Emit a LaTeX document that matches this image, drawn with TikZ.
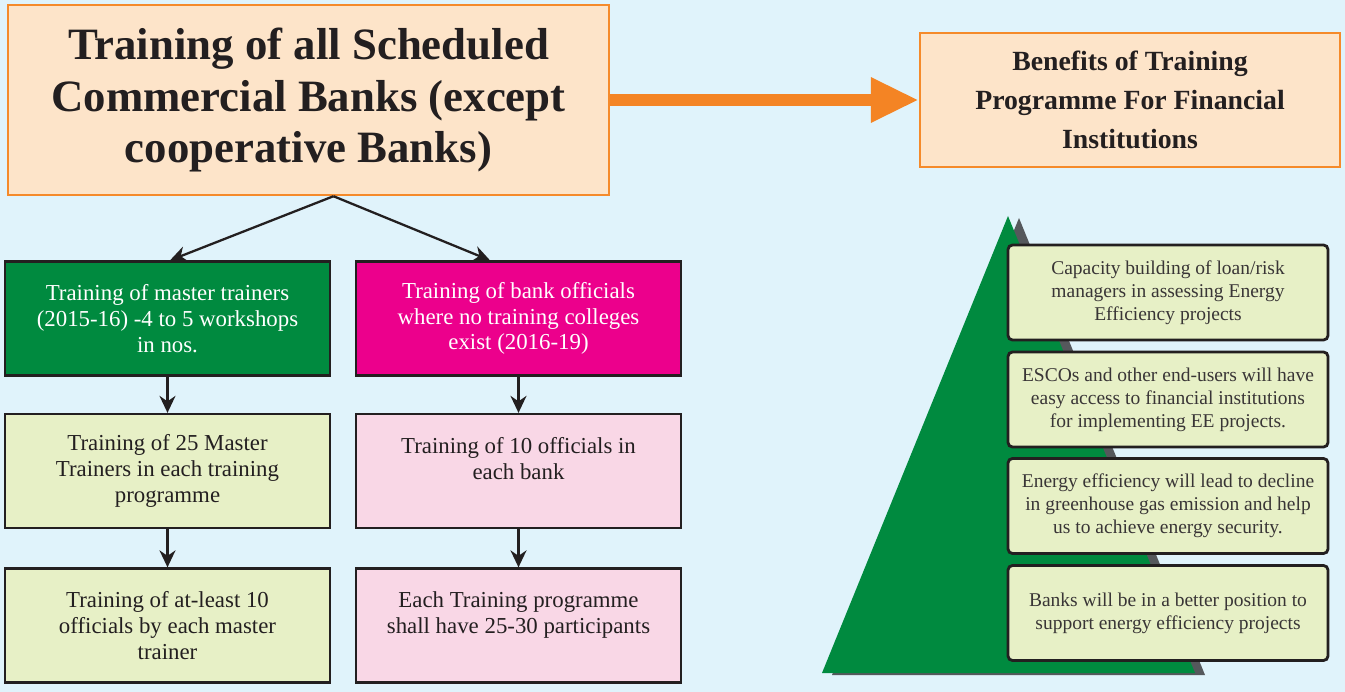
\documentclass[tikz,border=0pt]{standalone}
\usepackage{fontspec}
\setmainfont{Liberation Serif}
\usetikzlibrary{arrows.meta}

\definecolor{skyback}{HTML}{E0F3FB}
\definecolor{peach}{HTML}{FDE4C9}
\definecolor{orangeline}{HTML}{F58A2A}
\definecolor{orangearrow}{HTML}{F48424}
\definecolor{treegreen}{HTML}{008A3F}
\definecolor{hotpink}{HTML}{EC008C}
\definecolor{lightolive}{HTML}{E7F0C6}
\definecolor{lightpink}{HTML}{F9D7E6}
\definecolor{boxline}{HTML}{231F20}
\definecolor{shadowgray}{HTML}{55585C}

\begin{document}
\begin{tikzpicture}[
    x=0.02cm, y=-0.02cm,
    >={Stealth[length=3.4mm,width=3.2mm]},
    titlebox/.style={
        draw=orangeline,
        line width=1.4pt,
        fill=peach,
        align=center,
        inner sep=0pt,
        text=boxline
    },
    stepbox/.style={
        draw=boxline,
        line width=1.3pt,
        minimum width=6.5cm,
        minimum height=2.28cm,
        align=center,
        inner sep=0pt,
        text=boxline,
        font=\fontsize{13}{14.7}\selectfont
    },
    gainbox/.style={
        draw=boxline,
        line width=1.6pt,
        rounded corners=2.5pt,
        fill=lightolive,
        minimum width=6.4cm,
        minimum height=1.9cm,
        align=center,
        inner sep=0pt,
        text=boxline!90,
        font=\fontsize{11.1}{13}\selectfont
    },
    arr/.style={->, line width=1.3pt, draw=boxline},
    bigarr/.style={-{Triangle[length=0.96cm,width=0.84cm]}, line width=0.24cm, draw=orangearrow}
]
    \useasboundingbox[fill=skyback] (0,0) rectangle (1345,692);

    % top row
    \node[titlebox, minimum width=12.02cm, minimum height=3.8cm,
          font=\bfseries\fontsize{25.5}{29.5}\selectfont] (title) at (308.5,100)
        {Training of all Scheduled\\Commercial Banks (except\\cooperative Banks)};

    \node[titlebox, minimum width=8.4cm, minimum height=2.68cm,
          font=\bfseries\fontsize{15.8}{22}\selectfont] (benefits) at (1130,100)
        {Benefits of Training\\Programme For Financial\\Institutions};

    \draw[bigarr] (title.east) -- (benefits.west);

    % left column
    \node[stepbox, fill=treegreen, text=white] (master) at (167.5,318.5)
        {Training of master trainers\\(2015-16) -4 to 5 workshops\\in nos.};
    \node[stepbox, fill=lightolive] (mastertrain) at (167.5,471)
        {Training of 25 Master\\Trainers in each training\\programme};
    \node[stepbox, fill=lightolive] (atleast) at (167.5,625.5)
        {Training of at-least 10\\officials by each master\\trainer};

    % right column
    \node[stepbox, fill=hotpink, text=white] (bankoff) at (518.5,318.5)
        {Training of bank officials\\where no training colleges\\exist (2016-19)};
    \node[stepbox, fill=lightpink] (officials) at (518.5,471)
        {Training of 10 officials in\\each bank\\~};
    \node[stepbox, fill=lightpink] (participants) at (518.5,625.5)
        {Each Training programme\\shall have 25-30 participants\\~};

    \draw[arr] ([xshift=0.5cm]title.south) -- ([xshift=0.05cm]master.north);
    \draw[arr] ([xshift=0.5cm]title.south) -- ([xshift=-0.57cm]bankoff.north);
    \draw[arr] (master) -- (mastertrain);
    \draw[arr] (mastertrain) -- (atleast);
    \draw[arr] (bankoff) -- (officials);
    \draw[arr] (officials) -- (participants);

    % pyramid
    \fill[shadowgray] (1019,218) -- (1205,675) -- (832,675) -- cycle;
    \fill[treegreen] (1008,216) -- (1195,673) -- (822,673) -- cycle;

    \node[gainbox] (gain1) at (1168,292.5)
        {Capacity building of loan/risk\\managers in assessing Energy\\Efficiency projects};
    \node[gainbox] (gain2) at (1168,399.5)
        {ESCOs and other end-users will have\\easy access to financial institutions\\for implementing EE projects.};
    \node[gainbox] (gain3) at (1168,506)
        {Energy efficiency will lead to decline\\in greenhouse gas emission and help\\us to achieve energy security.};
    \node[gainbox] (gain4) at (1168,613)
        {Banks will be in a better position to\\support energy efficiency projects};
\end{tikzpicture}
\end{document}
